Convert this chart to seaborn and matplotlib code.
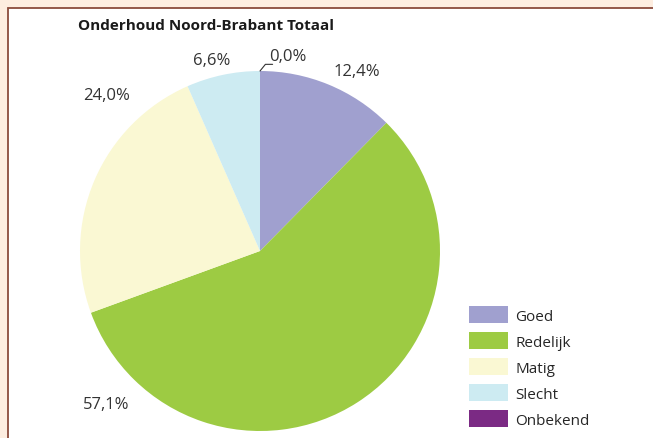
import matplotlib
matplotlib.use('Agg')
import matplotlib.pyplot as plt
from matplotlib.patches import Rectangle, Patch
import seaborn as sns

# data
categories = ['Goed', 'Redelijk', 'Matig', 'Slecht', 'Onbekend']
shares = [12.4, 57.1, 24.0, 6.6, 0.0]
labels = ['12,4%', '57,1%', '24,0%', '6,6%', '0,0%']
colors = ['#A0A0CF', '#9DCB43', '#FAF8D3', '#CDEBF2', '#7B2A84']

sns.set_style('white')
plt.rcParams['font.family'] = ['Open Sans', 'DejaVu Sans']

fig = plt.figure(figsize=(6.53, 4.39), dpi=100)
fig.patch.set_facecolor('#FDEDE0')
W, H = 653, 439

# white panel with brown border (extends past right/bottom edge)
panel = Rectangle((8 / W, -0.05), 1.2, 1 - 9 / H + 0.05, transform=fig.transFigure,
                  facecolor='white', edgecolor='#8A4B3C', linewidth=1.3, zorder=-10)
fig.patches.append(panel)

fig.text(78 / W, 1 - 26 / H, 'Onderhoud Noord-Brabant Totaal', fontsize=11,
         fontweight='bold', ha='left', va='center', color='#1a1a1a')

# pie axes: center (260, 252) px, radius 180 px
cx, cy, R, half = 260, 252, 180, 200
ax = fig.add_axes([(cx - half) / W, (H - cy - half) / H, 2 * half / W, 2 * half / H])
ax.set_facecolor('none')
ax.pie(shares, colors=colors, startangle=90, counterclock=False, radius=1,
       wedgeprops={'linewidth': 0})
ax.set_xlim(-half / R, half / R)
ax.set_ylim(-half / R, half / R)
ax.set_aspect('equal')
ax.axis('off')

# label positions (in pie radius units)
label_pos = [(0.54, 1.0), (-0.855, -0.85), (-0.85, 0.867), (-0.267, 1.06), (0.155, 1.083)]
for lab, (x, y) in zip(labels, label_pos):
    ax.text(x, y, lab, ha='center', va='center', fontsize=12, color='#333333')
# leader line for 0,0%
ax.plot([0, 0.03, 0.07], [1.0, 1.037, 1.037], color='#333333', linewidth=0.8,
        clip_on=False)

handles = [Patch(facecolor=c, edgecolor='none') for c in colors]
fig.legend(handles, categories, loc='upper left', bbox_to_anchor=(469 / W, 1 - 307 / H),
           frameon=False, fontsize=11, handlelength=2.55, handleheight=1.35,
           labelspacing=0.55, handletextpad=0.5, borderpad=0, borderaxespad=0)

fig.savefig('out.png', dpi=100, facecolor=fig.get_facecolor())
